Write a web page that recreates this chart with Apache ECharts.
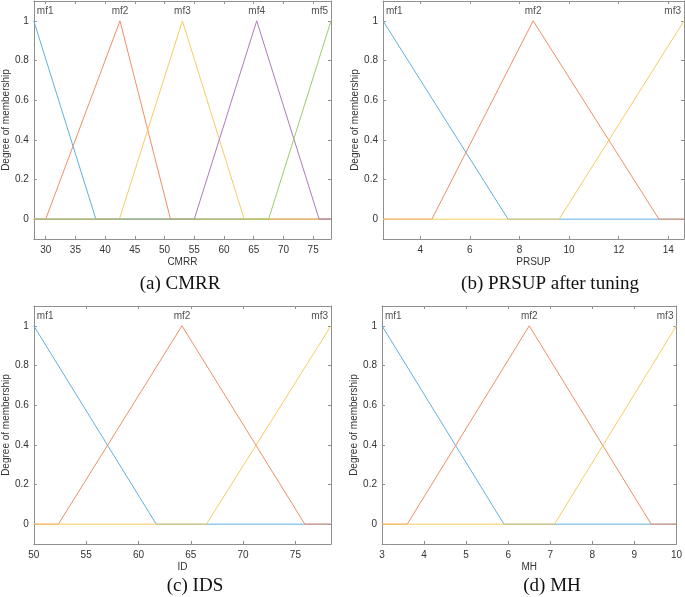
<!DOCTYPE html>
<html>
<head>
<meta charset="utf-8">
<script src="https://cdn.jsdelivr.net/npm/echarts@6/dist/echarts.min.js"></script>
<style>
html,body{margin:0;padding:0;background:#fff;}
#chart{width:685px;height:597px;}
</style>
</head>
<body>
<div id="chart"></div>
<script>
// ---------- data ----------
const mfNames5 = ['mf1', 'mf2', 'mf3', 'mf4', 'mf5'];
const mfNames3 = ['mf1', 'mf2', 'mf3'];

// triangular membership function parameters [a, b(peak), c]
const cmrrRange = [28, 78];
const cmrrMF = [[17.5, 28, 38.45], [30, 42.5, 51], [42.4, 53, 63.4], [55, 65.5, 76], [67.5, 78, 88.5]];
const cmrrTicks = [30, 35, 40, 45, 50, 55, 60, 65, 70, 75];

const prsupRange = [2.5, 14.63];
const prsupMF = [[-2.54, 2.5, 7.54], [4.47, 8.55, 13.62], [9.6, 14.63, 19.66]];
const prsupTicks = [4, 6, 8, 10, 12, 14];

const idsRange = [50, 78.4];
const idsMF = [[38.3, 50, 61.7], [52.35, 64.16, 75.9], [66.5, 78.4, 90.3]];
const idsTicks = [50, 55, 60, 65, 70, 75];

const mhRange = [3, 10];
const mhMF = [[0.1, 3, 5.9], [3.6, 6.5, 9.4], [7.1, 10, 12.9]];
const mhTicks = [3, 4, 5, 6, 7, 8, 9, 10];

const yRange = [-0.1, 1.1];
const yTicks = [0, 0.2, 0.4, 0.6, 0.8, 1];

const xNames = ['CMRR', 'PRSUP', 'ID', 'MH'];
const captions = ['(a) CMRR', '(b) PRSUP after tuning', '(c) IDS', '(d) MH'];

// ---------- style / layout ----------
const colors = ['#5fb0e2', '#ee8e68', '#f5cc62', '#ad7ab8', '#9fca6a'];
const SANS = '"Liberation Sans", Arial, sans-serif';
const TXT = '#333333';
const AX = '#8f8f8f';

const panels = [
  {range: cmrrRange, mf: cmrrMF, names: mfNames5, ticks: cmrrTicks, grid: {left: 29, top: 1, width: 302, height: 238}, cap: [180, 284]},
  {range: prsupRange, mf: prsupMF, names: mfNames3, ticks: prsupTicks, grid: {left: 383, top: 1, width: 301, height: 238}, cap: [550, 284]},
  {range: idsRange, mf: idsMF, names: mfNames3, ticks: idsTicks, grid: {left: 29, top: 306, width: 302, height: 238}, cap: [195, 586]},
  {range: mhRange, mf: mhMF, names: mfNames3, ticks: mhTicks, grid: {left: 382, top: 306, width: 298, height: 238}, cap: [552, 586]}
];

function trimf(x, p) {
  const [a, b, c] = p;
  const l = b === a ? (x >= b ? 1 : 0) : (x - a) / (b - a);
  const r = c === b ? (x <= b ? 1 : 0) : (c - x) / (c - b);
  return Math.max(0, Math.min(l, r));
}
function mfPoints(p, range) {
  const xs = [range[0]];
  p.forEach(v => { if (v > range[0] && v < range[1]) xs.push(v); });
  xs.push(range[1]);
  xs.sort((u, v) => u - v);
  return xs.map(x => [x, trimf(x, p)]);
}

const grid = [], xAxis = [], yAxis = [], series = [], graphic = [];
panels.forEach((P, i) => {
  grid.push(Object.assign({containLabel: false}, P.grid));
  const baseX = {
    type: 'value', gridIndex: i, min: P.range[0], max: P.range[1],
    axisLine: {show: true, onZero: false, lineStyle: {color: AX, width: 1}},
    axisTick: {show: true, inside: true, length: 3, customValues: P.ticks, lineStyle: {color: AX}},
    splitLine: {show: false}
  };
  xAxis.push(Object.assign({}, baseX, {
    position: 'bottom',
    name: xNames[i], nameLocation: 'middle', nameGap: 18,
    nameTextStyle: {fontFamily: SANS, fontSize: 10, color: TXT},
    axisLabel: {show: true, customValues: P.ticks, margin: 6, fontFamily: SANS, fontSize: 10, color: TXT}
  }));
  xAxis.push(Object.assign({}, baseX, {position: 'top', axisLabel: {show: false}}));
  const baseY = {
    type: 'value', gridIndex: i, min: yRange[0], max: yRange[1],
    axisLine: {show: true, onZero: false, lineStyle: {color: AX, width: 1}},
    axisTick: {show: true, inside: true, length: 3, customValues: yTicks, lineStyle: {color: AX}},
    splitLine: {show: false}
  };
  yAxis.push(Object.assign({}, baseY, {
    position: 'left',
    name: 'Degree of membership', nameLocation: 'middle', nameGap: 20,
    nameTextStyle: {fontFamily: SANS, fontSize: 10, color: TXT},
    axisLabel: {show: true, customValues: yTicks, margin: 5, fontFamily: SANS, fontSize: 10, color: TXT}
  }));
  yAxis.push(Object.assign({}, baseY, {position: 'right', axisLabel: {show: false}}));

  P.mf.forEach((p, k) => {
    series.push({
      type: 'line', xAxisIndex: 2 * i, yAxisIndex: 2 * i,
      data: mfPoints(p, P.range), symbol: 'none', animation: false, silent: true,
      lineStyle: {color: colors[k], width: 1}, z: 2 + k
    });
  });
  const n = P.mf.length;
  series.push({
    type: 'scatter', xAxisIndex: 2 * i, yAxisIndex: 2 * i, symbolSize: 1, animation: false, silent: true,
    itemStyle: {color: 'rgba(0,0,0,0)'}, z: 20,
    data: P.mf.map((p, k) => {
      const first = k === 0, last = k === n - 1;
      const x = Math.min(Math.max(p[1], P.range[0]), P.range[1]);
      return {
        value: [x, 1.05], name: P.names[k],
        label: {align: first ? 'left' : (last ? 'right' : 'center'), offset: [first ? 3 : (last ? -3 : 0), 0]}
      };
    }),
    label: {show: true, position: 'inside', formatter: '{b}', fontFamily: SANS, fontSize: 10, color: '#222'}
  });
  graphic.push({
    type: 'text', x: P.cap[0], y: P.cap[1], silent: true,
    style: {text: captions[i], font: '19px "Liberation Serif", "DejaVu Serif", serif', fill: '#111', align: 'center', verticalAlign: 'middle'}
  });
});

const chart = echarts.init(document.getElementById('chart'), null, {renderer: 'canvas'});
chart.setOption({animation: false, backgroundColor: '#fff', grid, xAxis, yAxis, series, graphic});
</script>
</body>
</html>
